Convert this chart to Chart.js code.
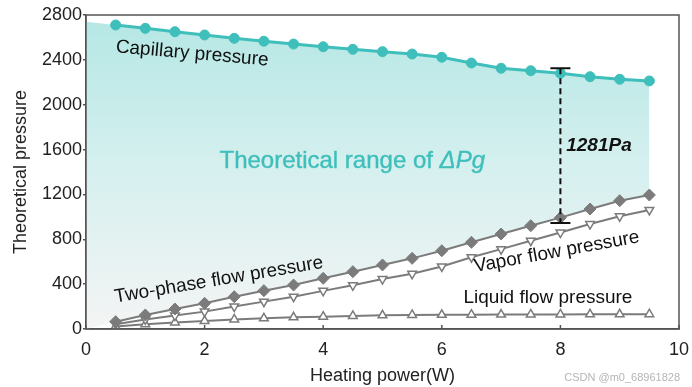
<!DOCTYPE html>
<html><head><meta charset="utf-8">
<script src="https://cdn.jsdelivr.net/npm/chart.js@4"></script>
<style>html,body{margin:0;padding:0;background:#fff;}</style>
</head><body>
<canvas id="c" width="692" height="387"></canvas>
<script>
// ---- data ----
const heatingPower = [0.5,1,1.5,2,2.5,3,3.5,4,4.5,5,5.5,6,6.5,7,7.5,8,8.5,9,9.5];
const capillaryPressure = [2711,2681,2651,2622,2592,2566,2541,2517,2494,2473,2452,2423,2372,2325,2303,2280,2250,2227,2212];
const twoPhasePressure = [65,125,178,229,288,342,392,452,511,571,630,698,773,847,921,993,1070,1144,1195];
const vaporPressure = [42,85,120,155,200,244,288,340,390,445,492,558,640,712,787,860,936,1005,1062];
const liquidPressure = [22,42,58,72,85,95,104,110,116,122,125,127,128,129,130,130,131,131,132];
const rangeEdgePower = 0;
const rangeTopAtEdge = 2740;
const rangeBottomAtEdge = 0;
const xTickValues = [0,2,4,6,8,10];
const yTickValues = [0,400,800,1200,1600,2000,2400,2800];
const gapPower = 8;
const gapTop = 2325;
const gapBottom = 945;
const gapLabel = '1281Pa';

const pts = (xs, ys) => xs.map((x, i) => ({x, y: ys[i]}));
const rangeTop = [{x: rangeEdgePower, y: rangeTopAtEdge}].concat(pts(heatingPower, capillaryPressure));
const rangeBottom = [{x: rangeEdgePower, y: rangeBottomAtEdge}].concat(pts(heatingPower, twoPhasePressure));

const TEAL = '#3fbfbb';
const GRAY = '#7b7b7b';
const FONT = '"Liberation Sans", Arial, sans-serif';

function gradientFill(ctx) {
  const chart = ctx.chart;
  const area = chart.chartArea;
  if (!area) return 'rgba(190,232,230,1)';
  const g = chart.ctx.createLinearGradient(0, area.top, 0, area.bottom);
  g.addColorStop(0, 'rgb(180,231,228)');
  g.addColorStop(0.5, 'rgb(214,240,239)');
  g.addColorStop(1, 'rgb(244,244,244)');
  return g;
}

const decor = {
  id: 'decor',
  afterDatasetsDraw(chart) {
    const c = chart.ctx, a = chart.chartArea;
    const xs = chart.scales.x, ys = chart.scales.y;
    c.save();
    // frame
    c.strokeStyle = '#555'; c.lineWidth = 1.5;
    c.strokeRect(a.left, a.top, a.right - a.left, a.bottom - a.top);
    // inward x ticks
    c.beginPath();
    xTickValues.forEach(v => {
      const px = xs.getPixelForValue(v);
      c.moveTo(px, a.bottom); c.lineTo(px, a.bottom - 4);
    });
    c.stroke();

    // gap bar
    const gx = xs.getPixelForValue(gapPower);
    const gt = ys.getPixelForValue(gapTop), gb = ys.getPixelForValue(gapBottom);
    c.strokeStyle = '#111'; c.lineWidth = 2;
    c.setLineDash([6, 4]);
    c.beginPath(); c.moveTo(gx, gt); c.lineTo(gx, gb); c.stroke();
    c.setLineDash([]);
    c.beginPath();
    c.moveTo(gx - 10, gt); c.lineTo(gx + 10, gt);
    c.moveTo(gx - 10, gb); c.lineTo(gx + 10, gb);
    c.stroke();

    function txt(s, x, y, font, color, angleDeg) {
      c.save();
      c.translate(xs.getPixelForValue(x), ys.getPixelForValue(y));
      c.rotate((angleDeg || 0) * Math.PI / 180);
      c.font = font; c.fillStyle = color;
      c.textAlign = 'center'; c.textBaseline = 'middle';
      c.fillText(s, 0, 0);
      c.restore();
    }
    txt('Capillary pressure', 1.79, 2455, '19px ' + FONT, '#111', 5);
    txt('Two-phase flow pressure', 2.24, 437, '19px ' + FONT, '#111', -9.5);
    txt('Vapor flow pressure', 7.94, 687, '19px ' + FONT, '#111', -10.3);
    txt('Liquid flow pressure', 7.79, 276, '19px ' + FONT, '#111', 0);
    txt(gapLabel, 8.65, 1632, 'italic bold 19px ' + FONT, '#111', 0);

    // Theoretical range of ΔPg (mixed style)
    const cx = xs.getPixelForValue(4.49), cy = ys.getPixelForValue(1498);
    const f1 = '24px ' + FONT, f2 = 'italic 24px ' + FONT;
    const s1 = 'Theoretical range of ', s2 = 'ΔPg';
    c.font = f1; const w1 = c.measureText(s1).width;
    c.font = f2; const w2 = c.measureText(s2).width;
    let sx = cx - (w1 + w2) / 2;
    c.fillStyle = TEAL; c.textBaseline = 'middle'; c.textAlign = 'left';
    c.strokeStyle = TEAL; c.lineWidth = 0.4;
    c.font = f1; c.fillText(s1, sx, cy); c.strokeText(s1, sx, cy);
    c.font = f2; c.fillText(s2, sx + w1, cy); c.strokeText(s2, sx + w1, cy);

    // watermark
    c.font = '11px ' + FONT; c.fillStyle = '#b5b5b5'; c.textAlign = 'right';
    c.fillText('CSDN @m0_68961828', 680, 378);
    c.restore();
  }
};

new Chart(document.getElementById('c'), {
  type: 'line',
  data: {
    datasets: [
      { data: rangeTop, fill: 1, backgroundColor: gradientFill, borderWidth: 0, pointRadius: 0, order: 10, tension: 0 },
      { data: rangeBottom, fill: false, borderWidth: 0, pointRadius: 0, order: 11, borderColor: 'rgba(0,0,0,0)' },
      { data: pts(heatingPower, capillaryPressure), borderColor: TEAL, borderWidth: 3, pointRadius: 5,
        pointStyle: 'circle', pointBackgroundColor: TEAL, pointBorderColor: TEAL, pointBorderWidth: 1, fill: false, order: 1 },
      { data: pts(heatingPower, twoPhasePressure), borderColor: GRAY, borderWidth: 2, pointRadius: 6,
        pointStyle: 'rectRot', pointBackgroundColor: GRAY, pointBorderColor: GRAY, pointBorderWidth: 1, fill: false, order: 2 },
      { data: pts(heatingPower, vaporPressure), borderColor: GRAY, borderWidth: 2, pointRadius: 5,
        pointStyle: 'triangle', rotation: 180, pointBackgroundColor: '#fff', pointBorderColor: GRAY, pointBorderWidth: 1.5, fill: false, order: 3 },
      { data: pts(heatingPower, liquidPressure), borderColor: GRAY, borderWidth: 2, pointRadius: 5,
        pointStyle: 'triangle', pointBackgroundColor: '#fff', pointBorderColor: GRAY, pointBorderWidth: 1.5, fill: false, order: 4 }
    ]
  },
  options: {
    responsive: false,
    animation: false,
    layout: { padding: { left: 10, right: 13, top: 15, bottom: 0 } },
    plugins: { legend: { display: false }, tooltip: { enabled: false } },
    elements: { line: { tension: 0 } },
    scales: {
      x: {
        type: 'linear', min: 0, max: 10,
        afterBuildTicks: s => { s.ticks = xTickValues.map(v => ({value: v})); },
        afterFit: s => { s.height = 58; },
        grid: { display: false },
        border: { display: true, color: '#555', width: 1.5 },
        ticks: { font: { family: FONT, size: 18 }, color: '#222', padding: 2, maxRotation: 0, callback: v => String(v) },
        title: { display: true, text: 'Heating power(W)', font: { family: FONT, size: 18 }, color: '#222', padding: { top: 0, bottom: 0 } }
      },
      y: {
        min: 0, max: 2800,
        afterBuildTicks: s => { s.ticks = yTickValues.map(v => ({value: v})); },
        afterFit: s => { s.width = 76; },
        grid: { drawOnChartArea: false, drawTicks: true, tickLength: 3, color: '#555', lineWidth: 1.5 },
        border: { display: true, color: '#555', width: 1.5 },
        ticks: { font: { family: FONT, size: 18 }, color: '#222', padding: 1, callback: v => String(v) },
        title: { display: true, text: 'Theoretical pressure', font: { family: FONT, size: 18 }, color: '#222', padding: { top: 0, bottom: 0 } }
      }
    }
  },
  plugins: [decor]
});
</script>
</body></html>
